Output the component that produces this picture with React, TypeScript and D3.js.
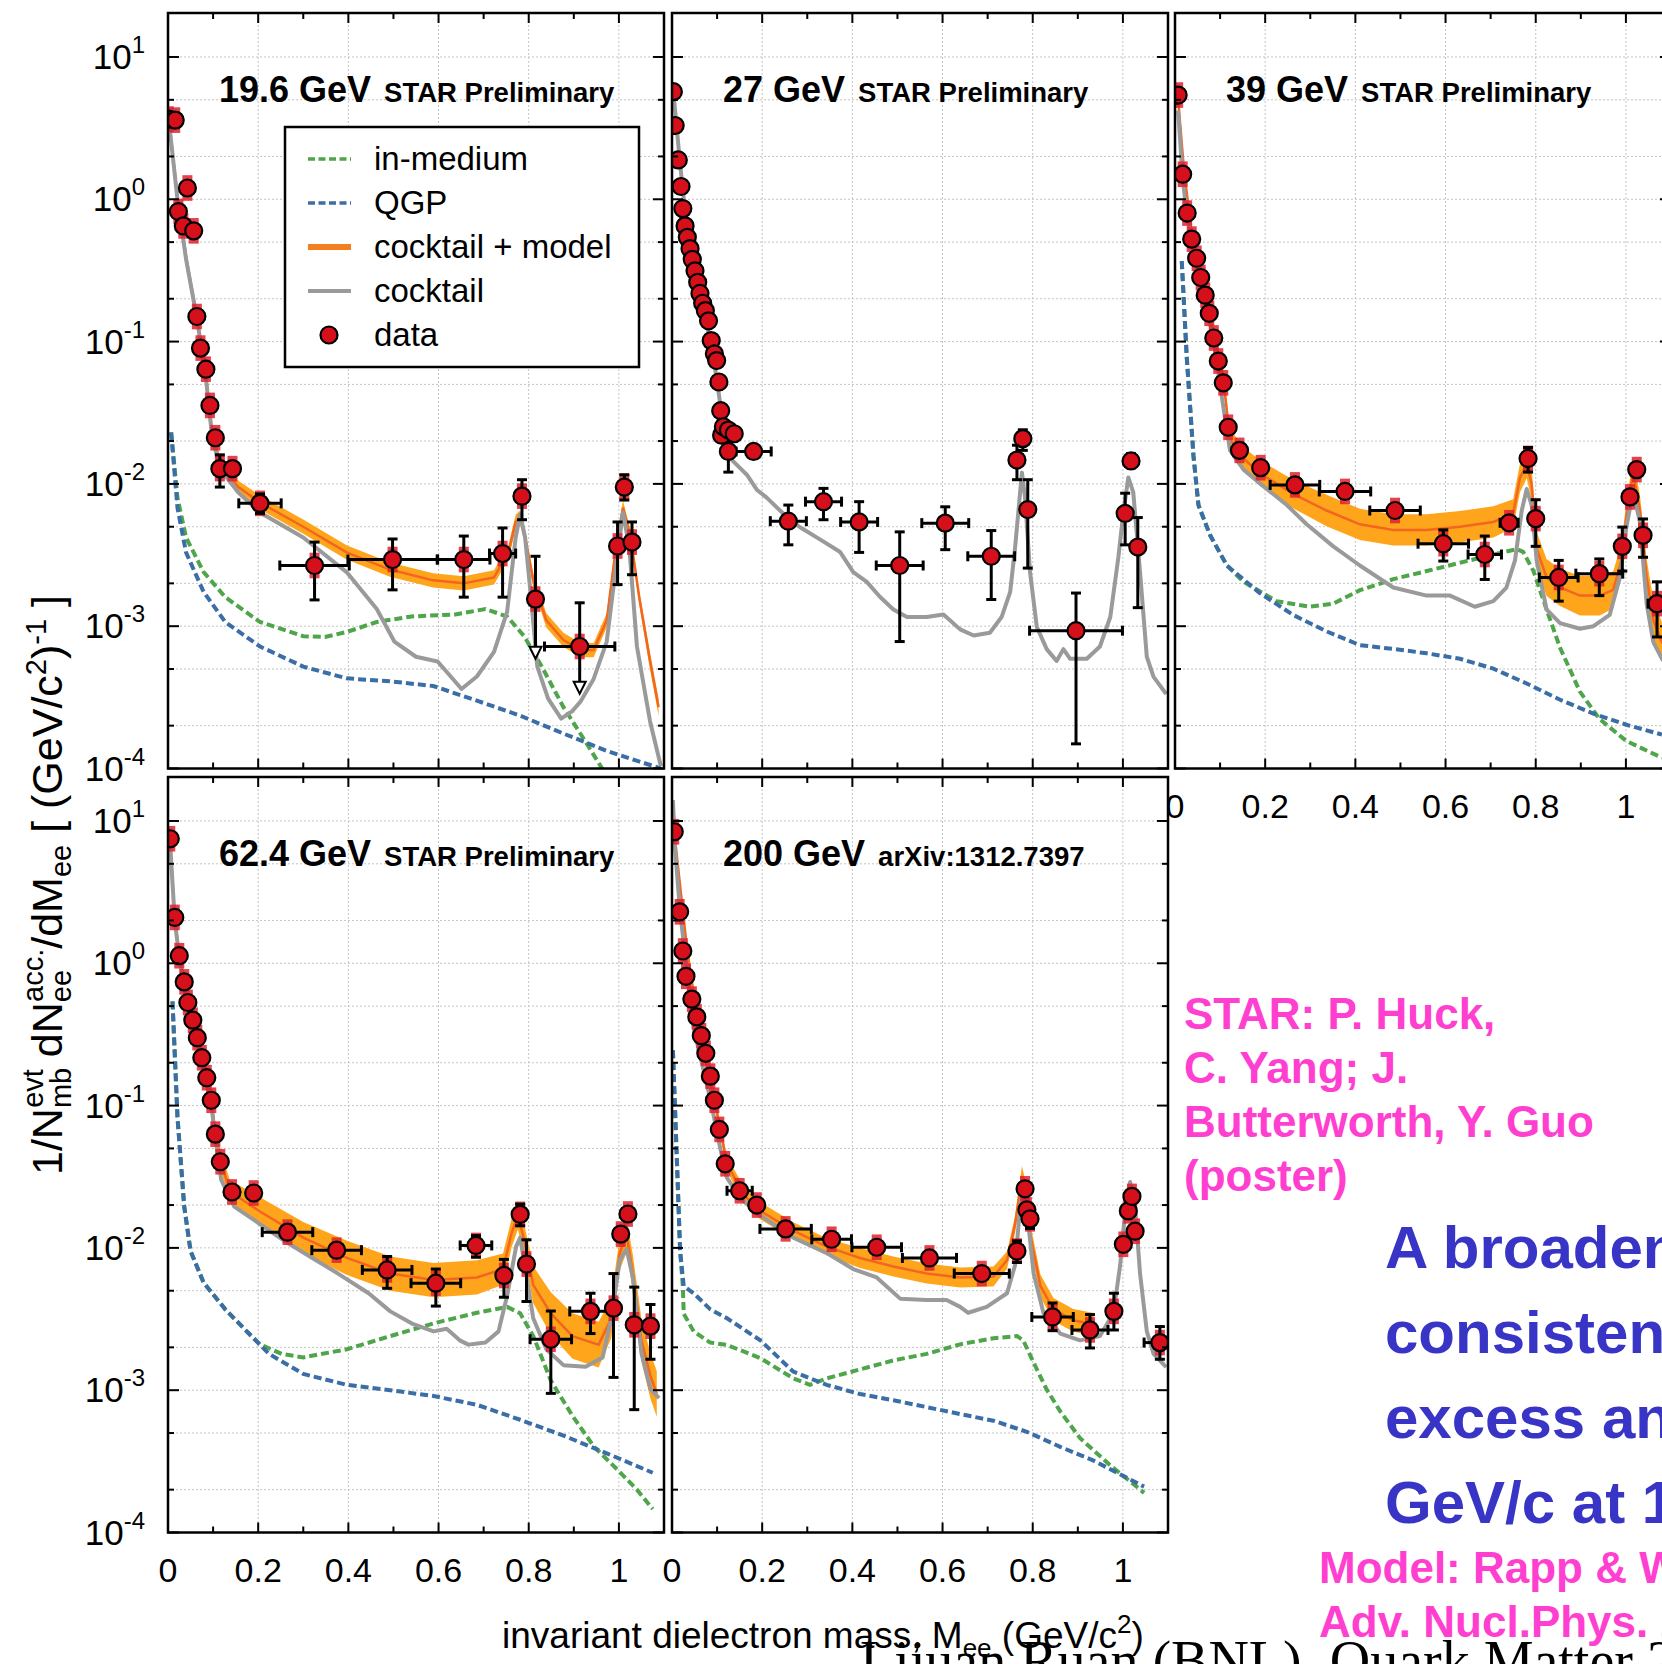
import React from "react";
import * as d3 from "d3";

type Pt = [number, number];
// x, central value, half width of the band in decades
type ModelPt = [number, number, number];
// x, y, x error, y low, y high (0 = no bar)
type DataPt = [number, number, number, number, number];
// x, top of bar, arrow tip (upper limits)
type LimitPt = [number, number, number];

// ---------- 19.6 GeV ----------
const data196: DataPt[] = [
  [0.002, 3.66, 0, 0, 0], [0.016, 3.6, 0, 0, 0], [0.023, 0.82, 0, 0, 0], [0.034, 0.65, 0, 0, 0],
  [0.043, 1.2, 0, 0, 0], [0.057, 0.6, 0, 0, 0], [0.064, 0.15, 0, 0, 0], [0.072, 0.09, 0, 0, 0],
  [0.084, 0.064, 0, 0, 0], [0.093, 0.0356, 0, 0, 0], [0.105, 0.0211, 0, 0, 0],
  [0.115, 0.0128, 0, 0.0095, 0.016], [0.143, 0.0128, 0, 0, 0],
  [0.204, 0.0073, 0.047, 0.0062, 0.0085], [0.325, 0.00267, 0.077, 0.00153, 0.0039],
  [0.498, 0.00294, 0.099, 0.0018, 0.0041], [0.656, 0.00294, 0.058, 0.0016, 0.0043],
  [0.742, 0.00324, 0.029, 0.0016, 0.0049], [0.785, 0.0082, 0.012, 0.0056, 0.0107],
  [0.815, 0.00155, 0.012, 0, 0], [0.913, 0.00072, 0.078, 0, 0],
  [0.997, 0.00366, 0, 0.00196, 0.0054], [1.012, 0.0095, 0, 0.0077, 0.0116],
  [1.029, 0.0039, 0, 0.0023, 0.0054],
];
const limits196: LimitPt[] = [[0.815, 0.0031, 0.00059], [0.913, 0.00146, 0.000335]];
const cocktail196: Pt[] = [
  [0.004, 3.1], [0.021, 1.0], [0.04, 0.38], [0.064, 0.146], [0.084, 0.056], [0.098, 0.0211],
  [0.117, 0.0125], [0.156, 0.0087], [0.204, 0.0063], [0.3, 0.0042], [0.396, 0.0024],
  [0.463, 0.00132], [0.502, 0.00078], [0.55, 0.00061], [0.598, 0.000565], [0.627, 0.000443],
  [0.651, 0.000362], [0.685, 0.000443], [0.723, 0.00066], [0.752, 0.00126], [0.771, 0.0042],
  [0.781, 0.0061], [0.792, 0.0042], [0.805, 0.0016], [0.819, 0.00052], [0.843, 0.00031],
  [0.872, 0.000224], [0.896, 0.000252], [0.915, 0.000296], [0.944, 0.000426], [0.973, 0.00078],
  [0.992, 0.0024], [1.009, 0.0063], [1.023, 0.0036], [1.04, 0.00072], [1.069, 0.000215],
  [1.093, 0.000104],
];
const model196: ModelPt[] = [
  [0.004, 3.2, 0.03], [0.021, 1.05, 0.03], [0.04, 0.4, 0.03], [0.064, 0.15, 0.03],
  [0.084, 0.058, 0.03], [0.098, 0.023, 0.035], [0.117, 0.0135, 0.04], [0.156, 0.0095, 0.045],
  [0.204, 0.0074, 0.05], [0.3, 0.005, 0.05], [0.396, 0.0033, 0.05], [0.492, 0.0025, 0.05],
  [0.588, 0.0021, 0.05], [0.656, 0.002, 0.05], [0.723, 0.0022, 0.05], [0.755, 0.0033, 0.05],
  [0.771, 0.0054, 0.05], [0.781, 0.0058, 0.05], [0.792, 0.0042, 0.05], [0.81, 0.0021, 0.05],
  [0.839, 0.0011, 0.05], [0.877, 0.0008, 0.05], [0.915, 0.00068, 0.05], [0.944, 0.00068, 0.05],
  [0.973, 0.0011, 0.05], [0.992, 0.0033, 0.05], [1.009, 0.0068, 0.05], [1.026, 0.0042, 0.05],
  [1.045, 0.0016, 0.05], [1.069, 0.00057, 0.06], [1.088, 0.00027, 0.06],
];
const medium196: Pt[] = [
  [0.007, 0.023], [0.021, 0.008], [0.04, 0.0042], [0.079, 0.0024], [0.127, 0.0016],
  [0.204, 0.00107], [0.3, 0.00085], [0.348, 0.00084], [0.396, 0.00091], [0.463, 0.00107],
  [0.54, 0.00117], [0.637, 0.00121], [0.704, 0.00132], [0.752, 0.00117], [0.79, 0.00085],
  [0.829, 0.00052], [0.877, 0.00027], [0.925, 0.000156], [0.973, 0.0000886],
];
const qgp196: Pt[] = [
  [0.007, 0.023], [0.021, 0.0068], [0.04, 0.0033], [0.079, 0.00174], [0.127, 0.00107],
  [0.204, 0.00072], [0.3, 0.00052], [0.396, 0.00043], [0.492, 0.00041], [0.588, 0.00038],
  [0.685, 0.0003], [0.781, 0.000235], [0.877, 0.000176], [0.973, 0.000133], [1.093, 0.0001],
];

// ---------- 27 GeV ----------
const data27: DataPt[] = [
  [0.003, 5.7, 0, 0, 0], [0.007, 3.3, 0, 0, 0], [0.014, 1.89, 0, 0, 0], [0.02, 1.23, 0, 0, 0],
  [0.024, 0.86, 0, 0, 0], [0.029, 0.65, 0, 0, 0], [0.034, 0.54, 0, 0, 0], [0.04, 0.45, 0, 0, 0],
  [0.045, 0.378, 0, 0, 0], [0.051, 0.314, 0, 0, 0], [0.057, 0.261, 0, 0, 0], [0.062, 0.218, 0, 0, 0],
  [0.068, 0.186, 0, 0, 0], [0.074, 0.165, 0, 0, 0], [0.081, 0.14, 0, 0, 0], [0.087, 0.1016, 0, 0, 0],
  [0.094, 0.082, 0, 0, 0], [0.099, 0.0736, 0, 0, 0], [0.104, 0.052, 0, 0, 0], [0.108, 0.0327, 0, 0, 0],
  [0.11, 0.022, 0, 0, 0], [0.114, 0.0252, 0, 0, 0], [0.125, 0.0239, 0, 0, 0], [0.138, 0.0225, 0, 0, 0],
  [0.125, 0.0169, 0, 0.0121, 0.0214], [0.181, 0.0169, 0.039, 0, 0],
  [0.258, 0.00547, 0.04, 0.00373, 0.0071], [0.336, 0.0075, 0.04, 0.0056, 0.0093],
  [0.415, 0.0054, 0.041, 0.0033, 0.0075], [0.505, 0.00267, 0.052, 0.00078, 0.0046],
  [0.606, 0.0053, 0.052, 0.00345, 0.0069], [0.708, 0.0031, 0.052, 0.00154, 0.0047],
  [0.765, 0.0147, 0, 0.0107, 0.0187], [0.778, 0.0208, 0, 0.0172, 0.024],
  [0.789, 0.0066, 0, 0.00256, 0.0107], [0.896, 0.00093, 0.103, 0.000149, 0.00171],
  [1.005, 0.0062, 0, 0.00373, 0.0086], [1.018, 0.0145, 0, 0.013, 0.0163],
  [1.033, 0.0036, 0, 0.00135, 0.0058],
];
const cocktail27: Pt[] = [
  [0.003, 5.7], [0.018, 1.77], [0.033, 0.62], [0.055, 0.278], [0.077, 0.135], [0.099, 0.0556],
  [0.114, 0.0248], [0.133, 0.0147], [0.166, 0.0116], [0.188, 0.0091], [0.21, 0.008],
  [0.255, 0.00583], [0.284, 0.00496], [0.329, 0.00406], [0.373, 0.00332], [0.402, 0.0024],
  [0.432, 0.00205], [0.461, 0.00161], [0.491, 0.00131], [0.521, 0.00116], [0.565, 0.00116],
  [0.602, 0.00121], [0.639, 0.00095], [0.669, 0.00086], [0.705, 0.0009], [0.731, 0.00116],
  [0.75, 0.00174], [0.761, 0.0036], [0.772, 0.0087], [0.776, 0.012], [0.783, 0.008],
  [0.794, 0.0024], [0.809, 0.00099], [0.831, 0.00069], [0.853, 0.00057], [0.868, 0.00069],
  [0.883, 0.00059], [0.92, 0.00059], [0.949, 0.00072], [0.972, 0.00116], [0.99, 0.00306],
  [1.001, 0.0063], [1.012, 0.0111], [1.023, 0.0087], [1.038, 0.0024], [1.053, 0.00061],
  [1.068, 0.00044], [1.096, 0.000334],
];

// ---------- 39 GeV ----------
const data39: DataPt[] = [
  [0.007, 5.4, 0, 0, 0], [0.017, 1.5, 0, 0, 0], [0.027, 0.8, 0, 0, 0], [0.037, 0.525, 0, 0, 0],
  [0.048, 0.385, 0, 0, 0], [0.057, 0.282, 0, 0, 0], [0.067, 0.212, 0, 0, 0], [0.076, 0.158, 0, 0, 0],
  [0.086, 0.106, 0, 0, 0], [0.096, 0.073, 0, 0, 0], [0.107, 0.0513, 0, 0, 0], [0.118, 0.025, 0, 0, 0],
  [0.143, 0.0172, 0, 0, 0], [0.19, 0.013, 0, 0, 0], [0.266, 0.00984, 0.055, 0, 0],
  [0.377, 0.00885, 0.057, 0, 0], [0.488, 0.0065, 0.056, 0, 0],
  [0.595, 0.0038, 0.056, 0.00287, 0.00475], [0.687, 0.00319, 0.037, 0.00213, 0.0043],
  [0.741, 0.00533, 0.02, 0, 0], [0.783, 0.0151, 0, 0.0121, 0.018],
  [0.8, 0.0057, 0, 0.00364, 0.00774], [0.851, 0.0022, 0.043, 0.0015, 0.0029],
  [0.941, 0.00234, 0.052, 0.00164, 0.00297], [0.992, 0.00364, 0, 0.00244, 0.00497],
  [1.009, 0.0081, 0, 0, 0], [1.024, 0.0126, 0, 0, 0], [1.038, 0.00435, 0, 0.00305, 0.00567],
  [1.069, 0.00144, 0.02, 0.00084, 0.00205],
];
const cocktail39: Pt[] = [
  [0.007, 4.2], [0.017, 1.4], [0.027, 0.75], [0.048, 0.36], [0.067, 0.2], [0.086, 0.1],
  [0.107, 0.035], [0.122, 0.0172], [0.152, 0.0126], [0.188, 0.0101], [0.248, 0.0071],
  [0.292, 0.0052], [0.351, 0.00364], [0.41, 0.00267], [0.484, 0.00187], [0.558, 0.00164],
  [0.61, 0.00164], [0.665, 0.00137], [0.706, 0.0015], [0.735, 0.00187], [0.754, 0.0029],
  [0.769, 0.0065], [0.78, 0.0092], [0.791, 0.0071], [0.802, 0.0029], [0.824, 0.00131],
  [0.854, 0.00105], [0.898, 0.00096], [0.928, 0.001], [0.964, 0.0012], [0.987, 0.00223],
  [1.001, 0.00497], [1.016, 0.00885], [1.031, 0.0054], [1.046, 0.00144], [1.061, 0.00077],
  [1.08, 0.00059], [1.1, 0.0005],
];
const model39: ModelPt[] = [
  [0.007, 5.0, 0.04], [0.02, 1.6, 0.04], [0.035, 0.65, 0.04], [0.05, 0.38, 0.04], [0.07, 0.2, 0.04],
  [0.09, 0.1, 0.05], [0.107, 0.055, 0.06], [0.122, 0.0206, 0.07], [0.152, 0.0151, 0.08],
  [0.188, 0.0119, 0.09], [0.262, 0.0085, 0.1], [0.336, 0.0065, 0.11], [0.41, 0.0052, 0.11],
  [0.484, 0.00475, 0.11], [0.558, 0.00475, 0.11], [0.632, 0.005, 0.11], [0.706, 0.0054, 0.11],
  [0.75, 0.0062, 0.1], [0.765, 0.011, 0.1], [0.78, 0.0138, 0.1], [0.791, 0.01, 0.11],
  [0.802, 0.0035, 0.12], [0.824, 0.0022, 0.13], [0.854, 0.00187, 0.13], [0.898, 0.00164, 0.14],
  [0.942, 0.00164, 0.14], [0.972, 0.0018, 0.13], [0.99, 0.0029, 0.12], [1.001, 0.0059, 0.1],
  [1.016, 0.0121, 0.1], [1.031, 0.0065, 0.11], [1.046, 0.0022, 0.13], [1.061, 0.0011, 0.14],
  [1.08, 0.00077, 0.14], [1.1, 0.00065, 0.14],
];
const medium39: Pt[] = [
  [0.015, 0.368], [0.026, 0.078], [0.041, 0.0157], [0.052, 0.0071], [0.078, 0.00435],
  [0.115, 0.00267], [0.152, 0.00205], [0.225, 0.0015], [0.299, 0.00137], [0.351, 0.00144],
  [0.41, 0.00179], [0.484, 0.00214], [0.558, 0.00244], [0.632, 0.00279], [0.706, 0.00319],
  [0.758, 0.00348], [0.772, 0.00333], [0.795, 0.00244], [0.824, 0.00131], [0.854, 0.000705],
  [0.898, 0.000347], [0.942, 0.000222], [1.001, 0.000156], [1.08, 0.000119],
];
const qgp39: Pt[] = [
  [0.015, 0.368], [0.026, 0.078], [0.041, 0.0157], [0.052, 0.0071], [0.078, 0.00435],
  [0.115, 0.00267], [0.188, 0.00171], [0.262, 0.0012], [0.336, 0.00092], [0.41, 0.000736],
  [0.484, 0.000692], [0.558, 0.000645], [0.632, 0.00059], [0.706, 0.000503], [0.78, 0.000396],
  [0.854, 0.000304], [0.928, 0.000243], [1.001, 0.000203], [1.08, 0.000173],
];

// ---------- 62.4 GeV ----------
const data62: DataPt[] = [
  [0.005, 7.5, 0, 0, 0], [0.015, 2.1, 0, 0, 0], [0.025, 1.13, 0, 0, 0], [0.036, 0.74, 0, 0, 0],
  [0.044, 0.53, 0, 0, 0], [0.055, 0.398, 0, 0, 0], [0.065, 0.3, 0, 0, 0], [0.075, 0.217, 0, 0, 0],
  [0.086, 0.157, 0, 0, 0], [0.096, 0.109, 0, 0, 0], [0.105, 0.063, 0, 0, 0], [0.116, 0.0403, 0, 0, 0],
  [0.142, 0.0247, 0, 0, 0], [0.19, 0.0243, 0, 0, 0], [0.265, 0.0129, 0.056, 0, 0],
  [0.374, 0.00964, 0.055, 0, 0], [0.486, 0.007, 0.055, 0.0052, 0.0087],
  [0.594, 0.00565, 0.055, 0.0039, 0.0071], [0.683, 0.0104, 0.035, 0.0086, 0.0122],
  [0.745, 0.0064, 0, 0.0045, 0.0083], [0.781, 0.0172, 0, 0.0143, 0.0203],
  [0.795, 0.0077, 0, 0.0042, 0.0114], [0.849, 0.00228, 0.046, 0.00095, 0.0036],
  [0.937, 0.00358, 0.046, 0.0025, 0.0048], [0.988, 0.00377, 0, 0.00123, 0.0066],
  [1.004, 0.0125, 0, 0, 0], [1.02, 0.0173, 0, 0, 0], [1.034, 0.00288, 0, 0.00073, 0.0053],
  [1.07, 0.00282, 0, 0.00165, 0.004],
];
const cocktail62: Pt[] = [
  [0.005, 6.7], [0.015, 2.0], [0.025, 1.1], [0.036, 0.72], [0.055, 0.38], [0.075, 0.2],
  [0.096, 0.1], [0.105, 0.06], [0.118, 0.03], [0.147, 0.0195], [0.204, 0.0147], [0.262, 0.011],
  [0.32, 0.0085], [0.377, 0.0066], [0.445, 0.0048], [0.493, 0.00358], [0.541, 0.00294],
  [0.589, 0.00259], [0.618, 0.0027], [0.647, 0.00224], [0.666, 0.00209], [0.704, 0.00216],
  [0.733, 0.00259], [0.752, 0.0046], [0.772, 0.0102], [0.781, 0.0118], [0.791, 0.0077],
  [0.81, 0.0032], [0.839, 0.00194], [0.877, 0.0015], [0.926, 0.00146], [0.964, 0.0017],
  [0.983, 0.0032], [1.002, 0.0082], [1.017, 0.0098], [1.031, 0.0062], [1.05, 0.00182],
  [1.07, 0.00102], [1.089, 0.00088],
];
const model62: ModelPt[] = [
  [0.005, 7.0, 0.04], [0.015, 2.1, 0.04], [0.025, 1.15, 0.04], [0.036, 0.75, 0.04], [0.055, 0.4, 0.04],
  [0.075, 0.22, 0.04], [0.096, 0.11, 0.05], [0.105, 0.065, 0.06], [0.116, 0.042, 0.07],
  [0.137, 0.025, 0.08], [0.204, 0.018, 0.1], [0.3, 0.0118, 0.11], [0.397, 0.0085, 0.12],
  [0.493, 0.0066, 0.12], [0.589, 0.00594, 0.12], [0.685, 0.0062, 0.12], [0.743, 0.0071, 0.11],
  [0.762, 0.0127, 0.1], [0.776, 0.017, 0.1], [0.791, 0.011, 0.11], [0.81, 0.0055, 0.13],
  [0.849, 0.00346, 0.15], [0.897, 0.0024, 0.16], [0.955, 0.00209, 0.16], [0.983, 0.0032, 0.14],
  [1.002, 0.0092, 0.12], [1.017, 0.0123, 0.12], [1.031, 0.0066, 0.13], [1.05, 0.00224, 0.15],
  [1.07, 0.00126, 0.16], [1.084, 0.00094, 0.16],
];
const medium62: Pt[] = [
  [0.01, 0.54], [0.021, 0.083], [0.036, 0.0195], [0.05, 0.0095], [0.079, 0.0057], [0.127, 0.0037],
  [0.185, 0.0024], [0.204, 0.0021], [0.252, 0.0018], [0.3, 0.0017], [0.397, 0.00194],
  [0.493, 0.0024], [0.589, 0.00295], [0.685, 0.0035], [0.752, 0.00385], [0.781, 0.00347],
  [0.81, 0.0024], [0.849, 0.00117], [0.897, 0.00066], [0.945, 0.0004], [1.0, 0.00027],
  [1.04, 0.0002], [1.075, 0.000146],
];
const qgp62: Pt[] = [
  [0.01, 0.54], [0.021, 0.083], [0.036, 0.0195], [0.05, 0.0095], [0.079, 0.0057], [0.127, 0.0037],
  [0.185, 0.0024], [0.224, 0.0018], [0.3, 0.0013], [0.397, 0.00109], [0.493, 0.001],
  [0.589, 0.00091], [0.685, 0.00079], [0.781, 0.00062], [0.877, 0.00048], [0.973, 0.00036],
  [1.075, 0.000263],
];

// ---------- 200 GeV ----------
const data200: DataPt[] = [
  [0.005, 8.4, 0, 0, 0], [0.017, 2.3, 0, 0, 0], [0.024, 1.22, 0, 0, 0], [0.031, 0.81, 0, 0, 0],
  [0.044, 0.56, 0, 0, 0], [0.055, 0.42, 0, 0, 0], [0.065, 0.31, 0, 0, 0], [0.075, 0.233, 0, 0, 0],
  [0.085, 0.161, 0, 0, 0], [0.094, 0.109, 0, 0, 0], [0.105, 0.068, 0, 0, 0], [0.118, 0.039, 0, 0, 0],
  [0.15, 0.0252, 0.028, 0, 0], [0.188, 0.02, 0, 0, 0], [0.252, 0.0136, 0.057, 0, 0],
  [0.354, 0.0115, 0.044, 0, 0], [0.454, 0.0101, 0.055, 0, 0], [0.571, 0.0085, 0.06, 0, 0],
  [0.687, 0.0066, 0.061, 0, 0], [0.765, 0.0095, 0, 0.0079, 0.0112], [0.783, 0.026, 0, 0, 0],
  [0.787, 0.0185, 0, 0, 0], [0.794, 0.016, 0, 0.0137, 0.0185],
  [0.844, 0.00327, 0.046, 0.00262, 0.0041], [0.927, 0.00265, 0.04, 0.00198, 0.0034],
  [0.98, 0.00358, 0, 0.00265, 0.0048], [1.001, 0.0106, 0, 0, 0], [1.012, 0.0182, 0, 0, 0],
  [1.02, 0.023, 0, 0, 0], [1.027, 0.0131, 0, 0, 0], [1.082, 0.00216, 0.035, 0.00165, 0.0028],
];
const cocktail200: Pt[] = [
  [0.002, 14], [0.007, 6.3], [0.018, 2.3], [0.048, 0.35], [0.085, 0.111], [0.107, 0.05],
  [0.122, 0.031], [0.151, 0.0226], [0.196, 0.0169], [0.269, 0.0118], [0.343, 0.0092],
  [0.402, 0.0071], [0.454, 0.0062], [0.506, 0.0044], [0.565, 0.0043], [0.609, 0.0043],
  [0.639, 0.00385], [0.657, 0.0035], [0.698, 0.00385], [0.743, 0.0048], [0.761, 0.0076],
  [0.772, 0.0195], [0.78, 0.026], [0.787, 0.0184], [0.802, 0.0066], [0.824, 0.00347],
  [0.861, 0.0025], [0.905, 0.00224], [0.949, 0.0024], [0.979, 0.00347], [0.994, 0.0076],
  [1.005, 0.0182], [1.016, 0.029], [1.027, 0.0195], [1.038, 0.0066], [1.053, 0.00259],
  [1.068, 0.0018], [1.096, 0.00145],
];
const model200: ModelPt[] = [
  [0.007, 7.3, 0.04], [0.033, 1.29, 0.04], [0.062, 0.304, 0.04], [0.092, 0.119, 0.04],
  [0.122, 0.039, 0.05], [0.159, 0.0235, 0.06], [0.196, 0.0182, 0.06], [0.269, 0.0132, 0.06],
  [0.343, 0.0102, 0.06], [0.417, 0.0085, 0.07], [0.491, 0.0074, 0.07], [0.565, 0.0066, 0.07],
  [0.639, 0.0062, 0.07], [0.713, 0.0063, 0.07], [0.743, 0.0082, 0.06], [0.761, 0.0147, 0.06],
  [0.776, 0.032, 0.07], [0.783, 0.026, 0.07], [0.794, 0.0126, 0.08], [0.817, 0.0054, 0.08],
  [0.846, 0.0037, 0.08], [0.89, 0.0031, 0.08], [0.935, 0.0029, 0.08],
];
const medium200: Pt[] = [
  [0.002, 0.245], [0.011, 0.04], [0.018, 0.0095], [0.024, 0.0054], [0.026, 0.00345],
  [0.048, 0.00259], [0.085, 0.00216], [0.122, 0.00208], [0.196, 0.00168], [0.269, 0.00121],
  [0.306, 0.00109], [0.343, 0.00121], [0.417, 0.0014], [0.491, 0.00162], [0.565, 0.0018],
  [0.639, 0.0021], [0.713, 0.00232], [0.765, 0.0024], [0.779, 0.00224], [0.802, 0.00156],
  [0.831, 0.00101], [0.861, 0.00071], [0.905, 0.00046], [0.97, 0.0003], [1.047, 0.00019],
];
const qgp200: Pt[] = [
  [0.002, 0.245], [0.011, 0.04], [0.018, 0.0095], [0.026, 0.0054], [0.048, 0.0048],
  [0.085, 0.0037], [0.122, 0.0032], [0.196, 0.00224], [0.269, 0.00135], [0.343, 0.00109],
  [0.417, 0.00094], [0.491, 0.00085], [0.565, 0.00076], [0.639, 0.00068], [0.713, 0.00061],
  [0.787, 0.00051], [0.861, 0.0004], [0.935, 0.00032], [1.047, 0.00021],
];

// ---------- labels ----------
const xTickLabels = ["0", "0.2", "0.4", "0.6", "0.8", "1"];
const yExponents = [1, 0, -1, -2, -3, -4];
const legendLabels = ["in-medium", "QGP", "cocktail + model", "cocktail", "data"];
const creditLines = ["STAR: P. Huck,", "C. Yang; J.", "Butterworth, Y. Guo", "(poster)"];
const messageLines = ["A broadened ρ", "consistent with", "excess and", "GeV/c at 1"];
const modelRefLines = ["Model: Rapp & Wambach,", "Adv. Nucl.Phys. 25, 1 (2000)"];

// ---------- layout & style ----------
const W = 1662;
const H = 1664;
const PW = 496;
const PH = 755.5;
const COLS = [168, 672, 1175];
const ROWS = [13, 777];
const X_DOMAIN: [number, number] = [0, 1.1];
const Y_DOMAIN: [number, number] = [1e-4, Math.pow(10, 1.309)];
const SYS = Math.pow(10, 0.09);
const FONT = "'Liberation Sans', Arial, Helvetica, sans-serif";
const C = {
  green: "#4ea54a",
  blue: "#3b6ea6",
  gray: "#9a9a9a",
  band: "#ffa51c",
  modelLine: "#f2661f",
  marker: "#d5101b",
  sys: "#e3202b",
  grid: "#c4c4c4",
  pink: "#ff3fd0",
  purple: "#3734c6",
};

interface PanelCfg {
  id: string;
  col: number;
  row: number;
  energy: string;
  tag: string;
  tagSize: number;
  data: DataPt[];
  limits?: LimitPt[];
  cocktail: Pt[];
  model?: ModelPt[];
  medium?: Pt[];
  qgp?: Pt[];
  sys: boolean;
  xLabels: boolean;
  yLabels: boolean;
  legend: boolean;
}

const panels: PanelCfg[] = [
  { id: "p196", col: 0, row: 0, energy: "19.6 GeV", tag: "STAR Preliminary", tagSize: 27.5, data: data196, limits: limits196, cocktail: cocktail196, model: model196, medium: medium196, qgp: qgp196, sys: true, xLabels: false, yLabels: true, legend: true },
  { id: "p27", col: 1, row: 0, energy: "27 GeV", tag: "STAR Preliminary", tagSize: 27.5, data: data27, cocktail: cocktail27, sys: false, xLabels: false, yLabels: false, legend: false },
  { id: "p39", col: 2, row: 0, energy: "39 GeV", tag: "STAR Preliminary", tagSize: 27.5, data: data39, cocktail: cocktail39, model: model39, medium: medium39, qgp: qgp39, sys: true, xLabels: true, yLabels: false, legend: false },
  { id: "p62", col: 0, row: 1, energy: "62.4 GeV", tag: "STAR Preliminary", tagSize: 27.5, data: data62, cocktail: cocktail62, model: model62, medium: medium62, qgp: qgp62, sys: true, xLabels: true, yLabels: true, legend: false },
  { id: "p200", col: 1, row: 1, energy: "200 GeV", tag: "arXiv:1312.7397", tagSize: 27.5, data: data200, cocktail: cocktail200, model: model200, medium: medium200, qgp: qgp200, sys: true, xLabels: true, yLabels: false, legend: false },
];

const Panel = ({ cfg }: { cfg: PanelCfg }) => {
  const left = COLS[cfg.col];
  const top = ROWS[cfg.row];
  const right = left + PW;
  const bottom = top + PH;

  const x = d3.scaleLinear().domain(X_DOMAIN).range([left, right]);
  const y = d3.scaleLog().domain(Y_DOMAIN).range([bottom, top]);

  const line = d3.line<Pt>().x((d) => x(d[0])).y((d) => y(d[1]));
  const band = d3
    .area<ModelPt>()
    .x((d) => x(d[0]))
    .y0((d) => y(d[1] / Math.pow(10, d[2])))
    .y1((d) => y(d[1] * Math.pow(10, d[2])));
  const mid = d3.line<ModelPt>().x((d) => x(d[0])).y((d) => y(d[1]));

  const decades = d3.range(-4, 2).map((e) => Math.pow(10, e));
  const minors = decades.flatMap((v) => [2 * v, 5 * v]).filter((v) => v < Y_DOMAIN[1] * 0.95);
  const xGrid = [0.2, 0.4, 0.6, 0.8, 1.0];
  const xTicks = d3.range(1, 11).map((i) => i / 10);
  const clipId = `clip-${cfg.id}`;
  const cap = 5;

  return (
    <g>
      <defs>
        <clipPath id={clipId}>
          <rect x={left} y={top} width={PW} height={PH} />
        </clipPath>
      </defs>
      <rect x={left} y={top} width={PW} height={PH} fill="white" />

      {/* grid */}
      <g stroke={C.grid} strokeWidth={1} strokeDasharray="2,2">
        {[...decades, ...minors].map((v) => (
          <line key={`gy${v}`} x1={left} x2={right} y1={y(v)} y2={y(v)} />
        ))}
        {xGrid.map((v) => (
          <line key={`gx${v}`} x1={x(v)} x2={x(v)} y1={top} y2={bottom} />
        ))}
      </g>

      {/* curves */}
      <g clipPath={`url(#${clipId})`} fill="none">
        {cfg.model && <path d={band(cfg.model) || ""} fill={C.band} stroke="none" />}
        {cfg.model && <path d={mid(cfg.model) || ""} stroke={C.modelLine} strokeWidth={2.5} />}
        {cfg.medium && (
          <path d={line(cfg.medium) || ""} stroke={C.green} strokeWidth={4} strokeDasharray="8,4" />
        )}
        {cfg.qgp && (
          <path d={line(cfg.qgp) || ""} stroke={C.blue} strokeWidth={4} strokeDasharray="8,4" />
        )}
        <path d={line(cfg.cocktail) || ""} stroke={C.gray} strokeWidth={4} strokeLinejoin="round" />
      </g>

      {/* data */}
      <g clipPath={`url(#${clipId})`}>
        {cfg.sys &&
          cfg.data.map(([px, py], i) => (
            <rect
              key={`s${i}`}
              x={x(px) - 5}
              y={y(py * SYS)}
              width={10}
              height={y(py / SYS) - y(py * SYS)}
              fill={C.sys}
              opacity={0.85}
            />
          ))}
        <g stroke="black" strokeWidth={3}>
          {cfg.data.map(([px, py, xe, lo, hi], i) => (
            <g key={`e${i}`}>
              {xe > 0 && (
                <>
                  <line x1={x(px - xe)} x2={x(px + xe)} y1={y(py)} y2={y(py)} />
                  <line x1={x(px - xe)} x2={x(px - xe)} y1={y(py) - cap} y2={y(py) + cap} />
                  <line x1={x(px + xe)} x2={x(px + xe)} y1={y(py) - cap} y2={y(py) + cap} />
                </>
              )}
              {lo > 0 && (
                <>
                  <line x1={x(px)} x2={x(px)} y1={y(lo)} y2={y(hi)} />
                  <line x1={x(px) - cap} x2={x(px) + cap} y1={y(lo)} y2={y(lo)} />
                  <line x1={x(px) - cap} x2={x(px) + cap} y1={y(hi)} y2={y(hi)} />
                </>
              )}
            </g>
          ))}
          {(cfg.limits || []).map(([px, hi, tip], i) => {
            const cx = x(px);
            const ty = y(tip);
            return (
              <g key={`l${i}`}>
                <line x1={cx} x2={cx} y1={y(hi)} y2={ty - 10} />
                <line x1={cx - cap} x2={cx + cap} y1={y(hi)} y2={y(hi)} />
                <path d={`M${cx - 6},${ty - 12}L${cx + 6},${ty - 12}L${cx},${ty}Z`} fill="white" strokeWidth={2} />
              </g>
            );
          })}
        </g>
        {cfg.data.map(([px, py], i) => (
          <circle key={`m${i}`} cx={x(px)} cy={y(py)} r={8.5} fill={C.marker} stroke="black" strokeWidth={2.2} />
        ))}
      </g>

      {/* title */}
      <text x={left + 51} y={top + 89} fontFamily={FONT} fontWeight="bold" fontSize={36}>
        {cfg.energy}
        <tspan dx={13} fontSize={cfg.tagSize}>
          {cfg.tag}
        </tspan>
      </text>

      {/* legend */}
      {cfg.legend && (
        <g fontFamily={FONT} fontSize={33}>
          <rect x={left + 117} y={top + 114} width={354} height={240} fill="white" stroke="black" strokeWidth={2.5} />
          {legendLabels.map((label, i) => {
            const ly = top + 146 + i * 44;
            const sx = left + 140;
            return (
              <g key={label}>
                {i === 0 && <line x1={sx} x2={sx + 43} y1={ly} y2={ly} stroke={C.green} strokeWidth={3.5} strokeDasharray="7,3.5" />}
                {i === 1 && <line x1={sx} x2={sx + 43} y1={ly} y2={ly} stroke={C.blue} strokeWidth={3.5} strokeDasharray="7,3.5" />}
                {i === 2 && <line x1={sx} x2={sx + 43} y1={ly} y2={ly} stroke="#f47f1e" strokeWidth={6} />}
                {i === 3 && <line x1={sx} x2={sx + 43} y1={ly} y2={ly} stroke={C.gray} strokeWidth={4} />}
                {i === 4 && <circle cx={sx + 21} cy={ly} r={8.5} fill={C.marker} stroke="black" strokeWidth={2.2} />}
                <text x={left + 206} y={ly + 11}>
                  {label}
                </text>
              </g>
            );
          })}
        </g>
      )}

      {/* frame and ticks */}
      <g stroke="black" strokeWidth={2}>
        {decades.map((v) => (
          <g key={`ty${v}`}>
            <line x1={left} x2={left + 11} y1={y(v)} y2={y(v)} />
            <line x1={right} x2={right - 11} y1={y(v)} y2={y(v)} />
          </g>
        ))}
        {minors.map((v) => (
          <g key={`tm${v}`}>
            <line x1={left} x2={left + 6} y1={y(v)} y2={y(v)} />
            <line x1={right} x2={right - 6} y1={y(v)} y2={y(v)} />
          </g>
        ))}
        {xTicks.map((v, i) => {
          const len = i % 2 === 1 ? 10 : 6;
          return (
            <g key={`tx${v}`}>
              <line x1={x(v)} x2={x(v)} y1={bottom} y2={bottom - len} />
              <line x1={x(v)} x2={x(v)} y1={top} y2={top + len} />
            </g>
          );
        })}
      </g>
      <rect x={left} y={top} width={PW} height={PH} fill="none" stroke="black" strokeWidth={2.5} />

      {cfg.xLabels && (
        <g fontFamily={FONT} fontSize={34} textAnchor="middle">
          {xTickLabels.map((t) => (
            <text key={t} x={x(+t)} y={bottom + 49}>
              {t}
            </text>
          ))}
        </g>
      )}
      {cfg.yLabels && (
        <g fontFamily={FONT} fontSize={35} textAnchor="end">
          {yExponents.map((e) => (
            <text key={e} x={left - 23} y={y(Math.pow(10, e)) + 12}>
              10
              <tspan dy={-16} fontSize={24}>
                {e}
              </tspan>
            </text>
          ))}
        </g>
      )}
    </g>
  );
};

export default function App() {
  return (
    <svg
      width={W}
      height={H}
      viewBox={`0 0 ${W} ${H}`}
      style={{ position: "absolute", left: 0, top: 0, display: "block", background: "white" }}
    >
      <rect width={W} height={H} fill="white" />
      {panels.map((p) => (
        <Panel key={p.id} cfg={p} />
      ))}

      {/* y axis title */}
      <text transform="translate(62,885) rotate(-90)" textAnchor="middle" fontFamily={FONT} fontSize={43}>
        1/N<tspan dy={9} fontSize={29}>mb</tspan>
        <tspan dx={-40} dy={-28} fontSize={29}>evt</tspan>
        <tspan dy={19}> dN</tspan>
        <tspan dy={9} fontSize={29}>ee</tspan>
        <tspan dx={-32} dy={-28} fontSize={29}>acc.</tspan>
        <tspan dy={19}>/dM</tspan>
        <tspan dy={9} fontSize={29}>ee</tspan>
        <tspan dy={-9}> [ (GeV/c</tspan>
        <tspan dy={-16} fontSize={29}>2</tspan>
        <tspan dy={16}>)</tspan>
        <tspan dy={-16} fontSize={29}>-1</tspan>
        <tspan dy={16}> ]</tspan>
      </text>

      {/* x axis title */}
      <text x={502} y={1648} fontFamily={FONT} fontSize={37}>
        invariant dielectron mass, M<tspan dy={9} fontSize={26}>ee</tspan>
        <tspan dy={-9}> (GeV/c</tspan>
        <tspan dy={-15} fontSize={26}>2</tspan>
        <tspan dy={15}>)</tspan>
      </text>

      {/* side annotations */}
      <g fontFamily={FONT} fontWeight="bold" fontSize={44} fill={C.pink}>
        {creditLines.map((t, i) => (
          <text key={t} x={1184} y={1029 + i * 54}>
            {t}
          </text>
        ))}
        {modelRefLines.map((t, i) => (
          <text key={t} x={1319} y={1583 + i * 54}>
            {t}
          </text>
        ))}
      </g>
      <g fontFamily={FONT} fontWeight="bold" fontSize={60} fill={C.purple}>
        {messageLines.map((t, i) => (
          <text key={t} x={1385} y={1268 + i * 85}>
            {t}
          </text>
        ))}
      </g>
      <text x={860} y={1680} fontFamily="'Liberation Serif', 'Times New Roman', serif" fontSize={56}>
        Lijuan Ruan (BNL), Quark Matter 2014
      </text>
    </svg>
  );
}
